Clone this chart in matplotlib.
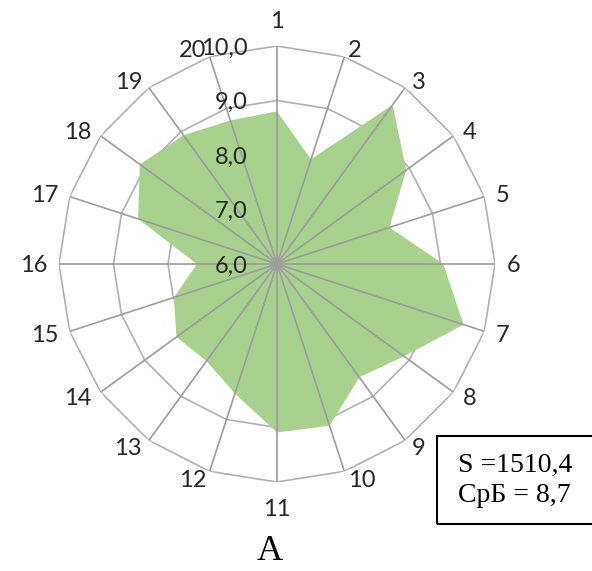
import numpy as np
import matplotlib
matplotlib.use("Agg")
import matplotlib.pyplot as plt
from matplotlib.patches import Rectangle

# Scores for the 20 criteria
categories = [str(i) for i in range(1, 21)]
scores = [8.80, 8.02, 9.61, 8.93, 8.17, 9.05, 9.60, 8.88, 8.57, 9.12,
          9.09, 8.50, 8.20, 8.28, 7.99, 7.47, 8.68, 9.11, 8.92, 8.77]
ring_levels = [6.0, 7.0, 8.0, 9.0, 10.0]
ring_labels = ["6,0", "7,0", "8,0", "9,0", "10,0"]
summary_lines = ["S =1510,4", "СрБ = 8,7"]
panel_label = "А"

W, H = 592, 571
fig = plt.figure(figsize=(W / 100, H / 100), dpi=100)
fig.patch.set_facecolor("white")

cx, cy, R = 277, 264, 218
ax = fig.add_axes([(cx - R) / W, (H - cy - R) / H, 2 * R / W, 2 * R / H],
                  projection="polar")
ax.set_theta_zero_location("N")
ax.set_theta_direction(-1)
ax.grid(False)
ax.spines["polar"].set_visible(False)

n = len(categories)
theta = np.linspace(0, 2 * np.pi, n, endpoint=False)
closed_theta = np.append(theta, theta[0])

# polygonal rings
for lvl in ring_levels[1:]:
    ax.plot(closed_theta, [lvl] * (n + 1), color="#b0b0b0", lw=1.2, zorder=1)

# score polygon
ax.fill(closed_theta, scores + [scores[0]], color="#a9d18e", lw=0, zorder=2)

# spokes
for t in theta:
    ax.plot([t, t], [ring_levels[0], ring_levels[-1]], color="#9c9c9c",
            lw=1.2, zorder=3)

ax.set_ylim(ring_levels[0], ring_levels[-1])
ax.set_yticks([])
ax.set_xticks([])

label_font = dict(fontsize=17, family="Lato", color="#262626")

# category labels placed just outside each outer vertex
for t, lab in zip(theta, categories):
    s, c = np.sin(t), np.cos(t)
    if abs(s) < 0.01:
        ha, dx = "center", 0.0
        dy = 24.0 if c > 0 else -28.0
    else:
        ha = "left" if s > 0 else "right"
        dx = 11.5 * s
        dy = 8.0 * c - 1.5
    ax.annotate(lab, xy=(t, ring_levels[-1]), xytext=(dx, dy),
                textcoords="offset pixels", ha=ha, va="center",
                annotation_clip=False, zorder=5, **label_font)

# radial scale labels
for lvl, lab in zip(ring_levels, ring_labels):
    ax.annotate(lab, xy=(0, lvl), xytext=(-29, -2), textcoords="offset pixels",
                ha="right", va="center", zorder=5, annotation_clip=False,
                **label_font)

# summary box
fig.add_artist(Rectangle((437 / W, 1 - 524 / H), (600 - 437) / W, (524 - 436) / H,
                         transform=fig.transFigure, fill=False, lw=1.5,
                         ec="black"))
fig.text(458 / W, 1 - 465 / H, summary_lines[0], ha="left", va="center",
         fontsize=20, family="Liberation Serif", color="black")
fig.text(458 / W, 1 - 496 / H, summary_lines[1], ha="left", va="center",
         fontsize=20, family="Liberation Serif", color="black")

fig.text(270 / W, 1 - 551 / H, panel_label, ha="center", va="center",
         fontsize=26, family="Liberation Serif", color="black")

fig.savefig("out.png", dpi=100)
